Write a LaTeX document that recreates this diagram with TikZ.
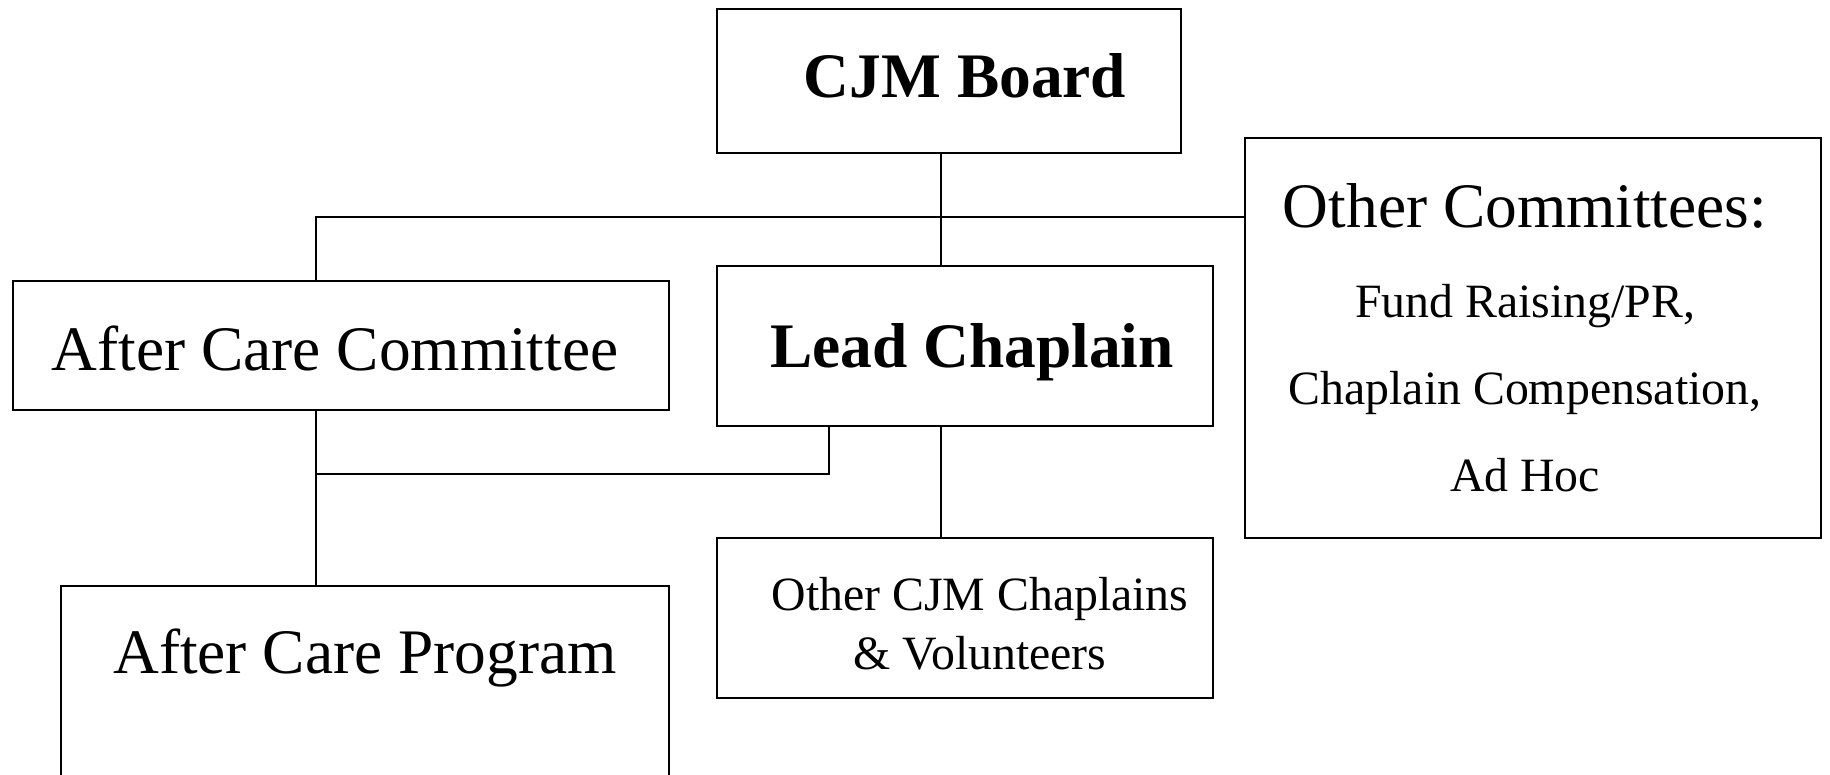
\documentclass[tikz,border=0pt]{standalone}
\usepackage{fontspec}
\setmainfont{Liberation Serif}
\usepackage{tikz}
\newcommand{\orgbig}{\fontsize{31.7pt}{38pt}\selectfont}
\newcommand{\orgsmall}{\fontsize{23.9pt}{29.5pt}\selectfont}
\tikzset{orgbox/.style={draw, line width=1pt, inner sep=0pt, outer sep=0pt, anchor=north west, align=center}}

\begin{document}
\begin{tikzpicture}[x=0.5pt, y=-0.5pt, line width=1pt]
	\useasboundingbox (0,0) rectangle (1830,775);
	\node[orgbox, minimum width=232pt, minimum height=72pt, text height=22pt, text depth=5pt, font=\orgbig\bfseries] at (717,9) (board) {\hspace*{16pt}CJM Board};
	\node[orgbox, minimum width=248pt, minimum height=80pt, text height=28pt, text depth=7pt, font=\orgbig\bfseries] at (717,266) (lead) {\hspace*{7pt}Lead Chaplain};
	\node[orgbox, minimum width=328pt, minimum height=64.5pt, text height=25pt, text depth=0pt, font=\orgbig] at (13,281) (acc) {\hspace*{-6pt}After Care Committee};
	\node[orgbox, minimum width=304pt, text height=43.5pt, text depth=150pt, font=\orgbig] at (61,586) (program) {After Care Program};
	\node[orgbox, minimum width=248pt, minimum height=80pt, font=\orgsmall] at (717,538) (others) {\rule{0pt}{22.5pt}\hspace*{15pt}Other CJM Chaplains\\\hspace*{15pt}\& Volunteers};
	\node[orgbox, minimum width=288pt, minimum height=200pt, font=\fontsize{23.9pt}{43.5pt}\selectfont] at (1245,138) (comm) {{\orgbig\hspace*{-8pt}Other Committees:}\\[1.5pt]\hspace*{-8pt}Fund Raising/PR,\\\hspace*{-8pt}Chaplain Compensation,\\\hspace*{-8pt}Ad Hoc};
	
	\coordinate (trunk) at (941,217);
	\coordinate (lbus) at (316,217);
	\coordinate (lowbus) at (316,474);
	\coordinate (drop) at (829,474);
	
	\draw (board.south -| trunk) -- (lead.north -| trunk);
	\draw (acc.north -| lbus) -- (lbus) -- (comm.west |- trunk);
	\draw (acc.south -| lbus) -- (program.north -| lbus);
	\draw (lead.south -| drop) -- (drop) -- (lowbus);
	\draw (lead.south -| trunk) -- (others.north -| trunk);
\end{tikzpicture}
\end{document}
